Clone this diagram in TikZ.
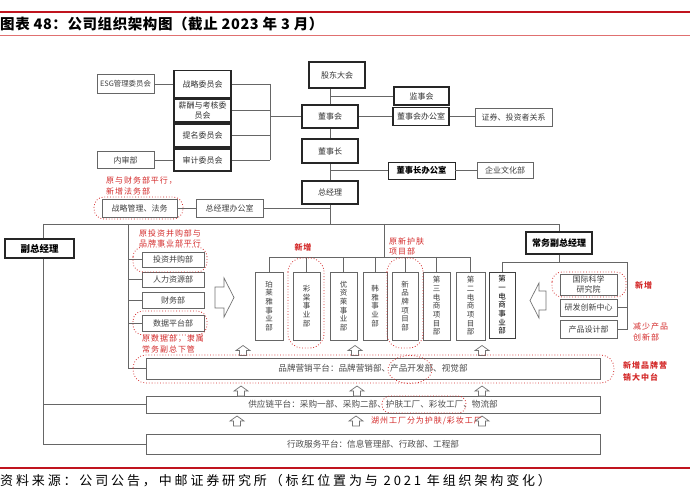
\documentclass[tikz,border=0pt]{standalone}
\usepackage{fontspec}
\setmainfont{Noto Sans CJK SC}
\newfontfamily\redfont[LetterSpace=12]{Noto Sans CJK SC}
\newfontfamily\srcfont[LetterSpace=22]{Noto Sans CJK SC}
\newfontfamily\ttlfont[LetterSpace=4]{Noto Sans CJK SC}
\definecolor{redc}{HTML}{C0141E}
\definecolor{redl}{HTML}{E07070}
\definecolor{annot}{HTML}{D42A2A}
\tikzset{
  tb/.style={draw=black!85, line width=1.6pt, fill=white, inner sep=0pt, text=black!80, font=\fontsize{8}{10}\selectfont},
  nb/.style={draw=black!60, line width=0.7pt, fill=white, inner sep=0pt, text=black!75, font=\fontsize{8}{10}\selectfont},
  mb/.style={draw=black!85, line width=1.1pt, fill=white, inner sep=0pt, text=black, font=\bfseries\fontsize{8.3}{10}\selectfont},
  vb/.style={nb, align=center, font=\fontsize{7.5}{8.7}\selectfont},
  pb/.style={nb, font=\fontsize{8.6}{10}\selectfont, text=black!70},
  ln/.style={draw=black!60, line width=0.7pt},
  rd/.style={draw=annot, dotted, line width=0.8pt},
  rt/.style={text=annot, font=\redfont\fontsize{8}{10}\selectfont, anchor=west, inner sep=0pt},
  rtb/.style={rt, font=\redfont\bfseries\fontsize{8}{10}\selectfont},
  ha/.style={draw=black!55, line width=0.7pt, fill=white, line join=miter},
}
\begin{document}
\begin{tikzpicture}[x=1pt,y=-1pt]
\fill[white] (0,0) rectangle (690,502);
\useasboundingbox (0,0) rectangle (690,502);

% title and rules
\draw[redc, line width=2.2pt] (0,12) -- (690,12);
\node[anchor=west, inner sep=0pt, font=\ttlfont\bfseries\fontsize{14.5}{16}\selectfont] (title) at (0,23.5) {图表 48：公司组织架构图（截止 2023 年 3 月）};
\draw[redl, line width=0.8pt] (0,35) -- (690,35);
\draw[redc, line width=1.2pt] (0,468) -- (690,468);
\node[anchor=west, inner sep=0pt, font=\srcfont\fontsize{13}{14}\selectfont] (src) at (0,481) {资料来源：公司公告，中邮证券研究所（标红位置为与 2021 年组织架构变化）};

% governance column
\node[tb, minimum width=56, minimum height=26] (gd) at (337,75) {股东大会};
\node[tb, minimum width=55, minimum height=18] (jsh) at (421.5,96) {监事会};
\node[tb, minimum width=56, minimum height=23] (dsh) at (330,116.5) {董事会};
\node[tb, minimum width=56, minimum height=18] (dshb) at (421,116.5) {董事会办公室};
\node[nb, minimum width=77, minimum height=18] (zq) at (513.5,117.5) {证券、投资者关系};
\node[tb, minimum width=56, minimum height=24] (dsz) at (330,151) {董事长};
\node[mb, line width=0.8pt, minimum width=67, minimum height=17] (dszb) at (421.5,170.5) {董事长办公室};
\node[nb, minimum width=56, minimum height=16] (qy) at (505,170.5) {企业文化部};
\node[tb, minimum width=56, minimum height=23] (zjl) at (330,192.5) {总经理};

\draw[ln] (gd.south -| dsh.north) -- (dsh.north);
\draw[ln] (jsh.west -| dsh.north) -- (jsh.west);
\draw[ln] (dsh.east) -- (dshb.west);
\draw[ln] (dshb.east) -- (dshb.east -| zq.west);
\draw[ln] (dsh.south) -- (dsz.north);
\draw[ln] (dsz.south) -- (zjl.north);
\draw[ln] (dszb.west -| dsz.south) -- (dszb.west);
\draw[ln] (dszb.east) -- (qy.west);

% committees
\node[nb, minimum width=57, minimum height=19, font=\fontsize{7.4}{9}\selectfont] (esg) at (125.5,84) {ESG管理委员会};
\node[tb, minimum width=57, minimum height=27] (zl) at (202.5,84) {战略委员会};
\node[tb, minimum width=57, minimum height=23, align=center, font=\fontsize{8}{9.5}\selectfont] (xc) at (202.5,110.5) {薪酬与考核委\\员会};
\node[tb, minimum width=57, minimum height=23] (tm) at (202.5,135.5) {提名委员会};
\node[tb, minimum width=57, minimum height=22] (sj) at (202.5,160) {审计委员会};
\node[nb, minimum width=57, minimum height=17] (nsb) at (125.5,160) {内审部};
\draw[ln] (esg.east) -- (zl.west);
\draw[ln] (nsb.east) -- (sj.west);
\coordinate (cb) at (270,116.5);
\draw[ln] (zl.east -| cb) -- (sj.east -| cb);
\foreach \n in {zl,xc,tm,sj} \draw[ln] (\n.east) -- (\n.east -| cb);
\draw[ln] (cb) -- (dsh.west);

% general manager level
\node[nb, minimum width=75, minimum height=18] (zlgl) at (139.5,208) {战略管理、法务};
\node[nb, minimum width=67, minimum height=18] (zjb) at (229.5,208) {总经理办公室};
\draw[ln] (zlgl.east) -- (zjb.west);
\coordinate (J0) at (330,224);
\coordinate (JL) at (43,224);
\coordinate (JM) at (128,224);
\coordinate (JC) at (384,224);
\coordinate (JR) at (559,224);
\draw[ln] (zjl.south) -- (J0);
\draw[ln] (zjb.east) -- (zjb.east -| J0);

% vice GM
\node[mb, minimum width=69, minimum height=19, font=\bfseries\fontsize{9.5}{10}\selectfont] (fzjl) at (39.5,248.5) {副总经理};
\node[mb, minimum width=66, minimum height=22, font=\bfseries\fontsize{9}{10}\selectfont] (cwfz) at (559,243) {常务副总经理};
\draw[ln] (JL) -- (JR) -- (cwfz.north);

% left departments
\node[nb, minimum width=62, minimum height=15] (tz) at (173,259.5) {投资并购部};
\node[nb, minimum width=62, minimum height=15] (rl) at (173,279.5) {人力资源部};
\node[nb, minimum width=62, minimum height=16] (cw) at (173,300) {财务部};
\node[nb, minimum width=62, minimum height=16] (sjpt) at (173,323) {数据平台部};

% business units
\node[vb, minimum width=28, minimum height=68] (u1) at (269,306) {珀\\莱\\雅\\事\\业\\部};
\node[vb, minimum width=27, minimum height=68] (u2) at (306.5,306) {彩\\棠\\事\\业\\部};
\node[vb, minimum width=27, minimum height=68] (u3) at (343.5,306) {优\\资\\莱\\事\\业\\部};
\node[vb, minimum width=24, minimum height=68] (u4) at (375,306) {韩\\雅\\事\\业\\部};
\node[vb, minimum width=26, minimum height=68] (u5) at (405,306) {新\\品\\牌\\项\\目\\部};
\node[vb, minimum width=27, minimum height=68] (u6) at (436.5,306) {第\\三\\电\\商\\项\\目\\部};
\node[vb, minimum width=29, minimum height=68] (u7) at (470.5,306) {第\\二\\电\\商\\项\\目\\部};
\node[vb, minimum width=26, minimum height=66, text=black, draw=black!75] (u8) at (502,305) {第\\一\\电\\商\\事\\业\\部};
\coordinate (JB) at (384,257);
\draw[ln] (JC) -- (JB);
\draw[ln] (u1.north |- JB) -- (u7.north |- JB);
\foreach \n in {u1,u2,u3,u4,u5,u6,u7} \draw[ln] (\n.north |- JB) -- (\n.north);

% right departments
\node[nb, minimum width=57, minimum height=21, align=center, font=\fontsize{8}{9.5}\selectfont] (gj) at (588.5,284.5) {国际科学\\研究院};
\node[nb, minimum width=57, minimum height=17] (yf) at (588.5,307.5) {研发创新中心};
\node[nb, minimum width=57, minimum height=18] (cp) at (588.5,329) {产品设计部};
\coordinate (JR2) at (559,262);
\coordinate (RR) at (627,262);
\draw[ln] (cwfz.south) -- (JR2);
\draw[ln] (u8.north |- RR) -- (RR) -- (RR |- cp.east) -- (cp.east);
\draw[ln] (u8.north |- RR) -- (u8.north);
\draw[ln] (yf.east) -- (yf.east -| RR);

% platforms
\node[pb, minimum width=454, minimum height=21] (pp) at (373,368.5) {品牌营销平台：品牌营销部、产品开发部、视觉部};
\node[pb, minimum width=454, minimum height=17] (gy) at (373,404.5) {供应链平台：采购一部、采购二部、护肤工厂、彩妆工厂、物流部};
\node[pb, minimum width=454, minimum height=20] (xz) at (373,444) {行政服务平台：信息管理部、行政部、工程部};

% left spines
\draw[ln] (JL) -- (fzjl.north -| JL);
\draw[ln] (fzjl.south -| JL) -- (xz.west -| JL) -- (xz.west);
\draw[ln] (gy.west -| JL) -- (gy.west);
\draw[ln] (JM) -- (pp.west -| JM) -- (pp.west);
\foreach \n in {tz,rl,cw,sjpt} \draw[ln] (\n.west -| JM) -- (\n.west);

% hollow arrows
\draw[ha] (215,287) -- (224,287) -- (224,278) -- (234,297.5) -- (224,317) -- (224,308) -- (215,308) -- cycle;
\draw[ha] (546,291) -- (539,291) -- (539,283) -- (530,300.5) -- (539,318) -- (539,310) -- (546,310) -- cycle;
\foreach \cx/\t in {243/345.5, 355/345.5, 482/345.5, 241/386, 357/386, 482/386, 237/416, 356/416, 482/416}
  \draw[ha] (\cx,\t) -- ++(7,5) -- ++(-3.5,0) -- ++(0,5) -- ++(-7,0) -- ++(0,-5) -- ++(-3.5,0) -- cycle;

% red dotted highlights
\draw[rd, rounded corners=10] (94,197) rectangle (183,219);
\draw[rd, rounded corners=10] (133,247) rectangle (207,272);
\draw[rd, rounded corners=10] (133,311) rectangle (207,335);
\draw[rd, rounded corners=14] (288,258) rectangle (324,348);
\draw[rd, rounded corners=14] (387,258) rectangle (423,348);
\draw[rd, rounded corners=10] (552,272) rectangle (626,297);
\draw[rd, rounded corners=13] (133,355) rectangle (614,383);
\draw[rd] (410,369.5) ellipse [x radius=22, y radius=14];
\draw[rd, rounded corners=8] (382,396) rectangle (466,413);

% red annotations
\node[rt] (a1) at (106,181) {原与财务部平行，};
\node[rt] (a2) at (106,191) {新增法务部};
\node[rt] (a3) at (139,233) {原投资并购部与};
\node[rt] (a4) at (139,243) {品牌事业部平行};
\node[rt] (a5) at (142,339) {原数据部，隶属};
\node[rt] (a6) at (142,349) {常务副总下管};
\node[rtb, anchor=center] (a7) at (303,247) {新增};
\node[rt] (a8) at (389,241) {原新护肤};
\node[rt] (a9) at (389,251) {项目部};
\node[rtb] (a10) at (635,285) {新增};
\node[rt] (a11) at (633,326) {减少产品};
\node[rt] (a12) at (633,337) {创新部};
\node[rtb] (a13) at (623,365) {新增品牌营};
\node[rtb] (a14) at (623,377) {销大中台};
\node[rt] (a15) at (371,421) {湖州工厂分为护肤/彩妆工厂};
\end{tikzpicture}
\end{document}
